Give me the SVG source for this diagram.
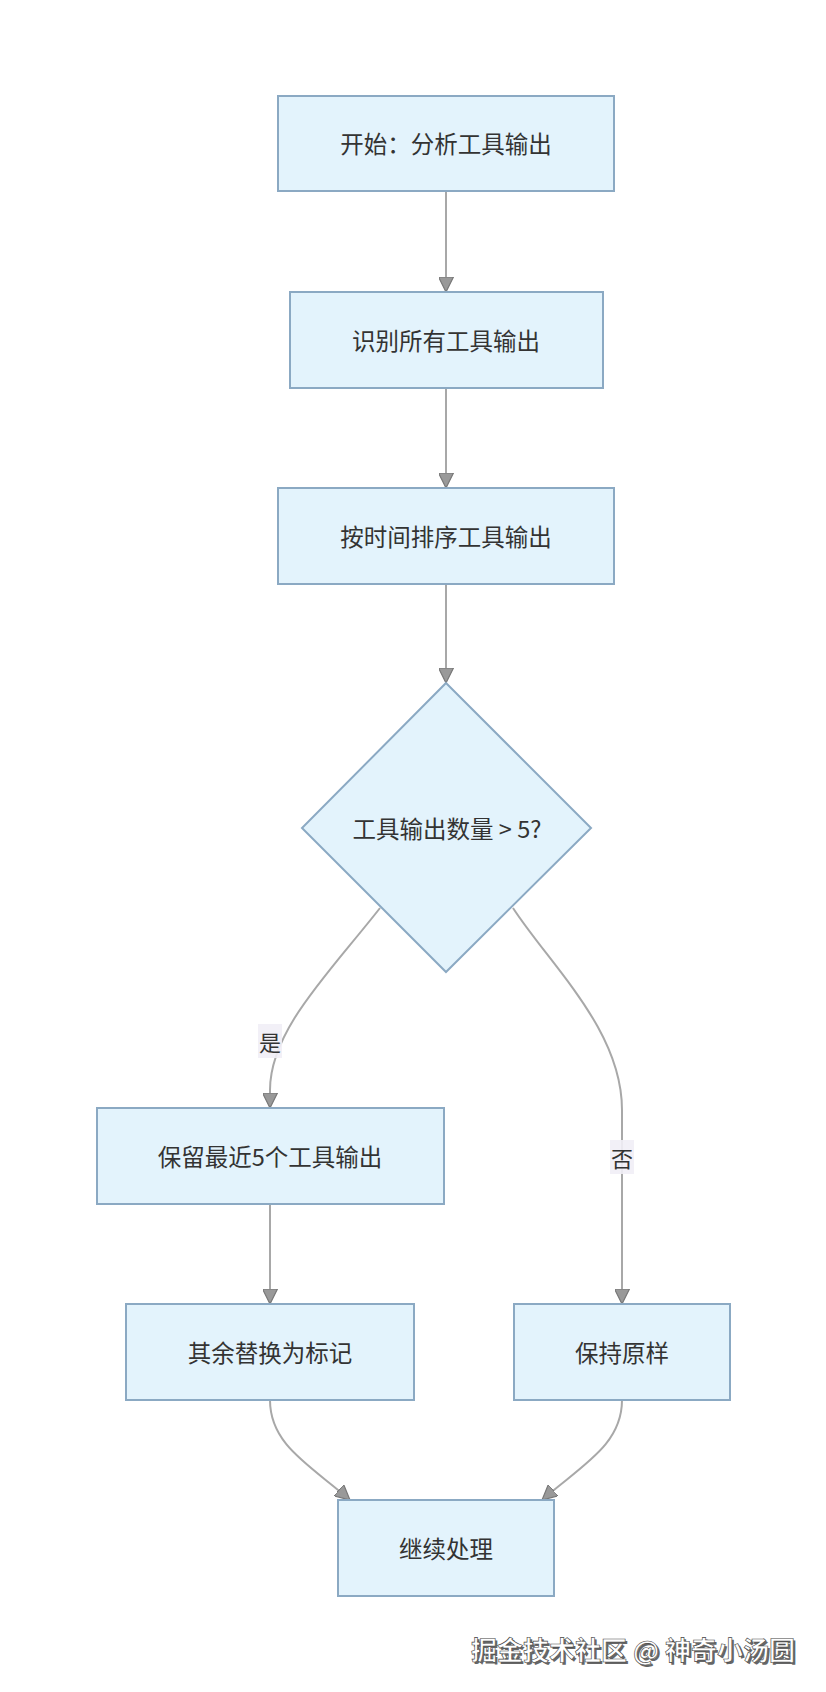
<svg xmlns="http://www.w3.org/2000/svg" width="826" height="1692" viewBox="0 0 826 1692">
<style>
.node rect,.node polygon{fill:#e3f3fc;stroke:#8ba9c3;stroke-width:2}
.node text{font-family:"Noto Sans CJK SC","Liberation Sans",sans-serif;font-size:23.5px;fill:#333;text-anchor:middle;dominant-baseline:central}
.edge{fill:none;stroke:#a8a8a8;stroke-width:2;marker-end:url(#arr)}
.lbg{fill:#f1eef6;opacity:0.9}
.lbl{font-family:"Noto Sans CJK SC","Liberation Sans",sans-serif;font-size:22px;fill:#333;text-anchor:middle;dominant-baseline:central}
.wm{font-family:"Noto Sans CJK SC","Liberation Sans",sans-serif;font-size:26px;font-weight:bold;text-anchor:end}
</style>
<defs>
<marker id="arr" viewBox="0 0 10 10" refX="10" refY="5" markerWidth="7.5" markerHeight="7.5" markerUnits="strokeWidth" orient="auto">
<path d="M0,0 L10,5 L0,10 z" fill="#999" stroke="#777" stroke-width="0.8"/>
</marker>
</defs>
<rect width="826" height="1692" fill="#fff"/>
<g id="edges">
<path class="edge" d="M446,191 L446,292"/>
<path class="edge" d="M446,388 L446,488"/>
<path class="edge" d="M446,584 L446,683"/>
<path class="edge" d="M380,908 C330,972 270,1030 270,1090 L270,1108"/>
<path class="edge" d="M513,908 C550,965 622,1030 622,1110 L622,1304"/>
<path class="edge" d="M270,1204 L270,1304"/>
<path class="edge" d="M270,1400 C270,1445 310,1465 350,1500"/>
<path class="edge" d="M622,1400 C622,1445 582,1465 542,1500"/>
<rect class="lbg" x="258" y="1024" width="24" height="34"/>
<text class="lbl" x="270" y="1041">是</text>
<rect class="lbg" x="610" y="1140" width="24" height="34"/>
<text class="lbl" x="622" y="1157">否</text>
</g>
<g id="n1" class="node"><rect x="278" y="96" width="336" height="95"/><text x="446" y="143">开始：分析工具输出</text></g>
<g id="n2" class="node"><rect x="290" y="292" width="313" height="96"/><text x="446" y="340">识别所有工具输出</text></g>
<g id="n3" class="node"><rect x="278" y="488" width="336" height="96"/><text x="446" y="536">按时间排序工具输出</text></g>
<g id="n4" class="node"><polygon points="446,683 591,828 446,972 302,828"/><text x="447" y="828">工具输出数量 &gt; 5?</text></g>
<g id="n5" class="node"><rect x="97" y="1108" width="347" height="96"/><text x="270" y="1156">保留最近5个工具输出</text></g>
<g id="n6" class="node"><rect x="126" y="1304" width="288" height="96"/><text x="270" y="1352">其余替换为标记</text></g>
<g id="n7" class="node"><rect x="514" y="1304" width="216" height="96"/><text x="622" y="1352">保持原样</text></g>
<g id="n8" class="node"><rect x="338" y="1500" width="216" height="96"/><text x="446" y="1548">继续处理</text></g>
<g id="watermark">
<text class="wm" x="797" y="1662" fill="#666">掘金技术社区 @ 神奇小汤圆</text>
<text class="wm" x="795" y="1660" fill="#fff" stroke="#444" stroke-width="0.6">掘金技术社区 @ 神奇小汤圆</text>
</g>
</svg>
